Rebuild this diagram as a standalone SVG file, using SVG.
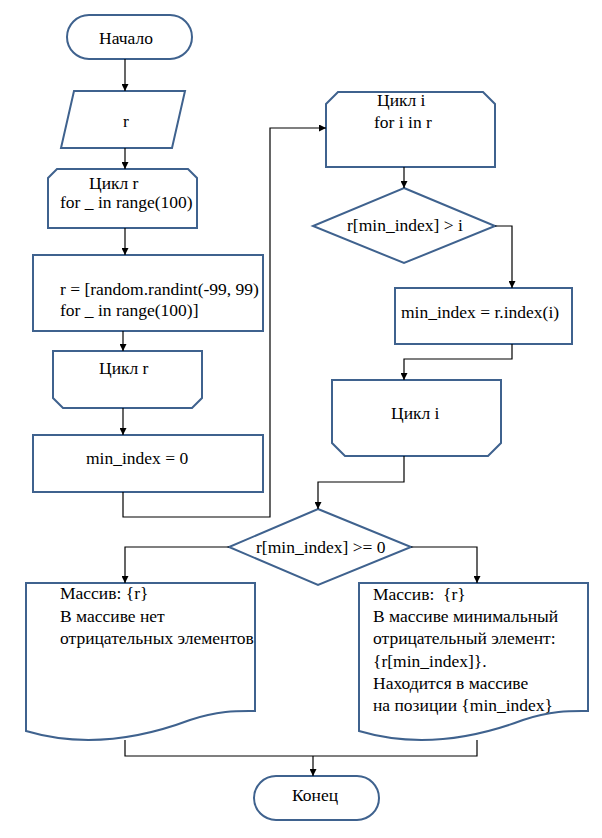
<svg xmlns="http://www.w3.org/2000/svg" width="602" height="838" viewBox="0 0 602 838" font-family="'Liberation Serif', 'Times New Roman', 'DejaVu Serif', serif" font-size="17.5">
<style>
.n{fill:#fff;stroke:#3F628E;stroke-width:2}
.c{fill:none;stroke:#000;stroke-width:1.2}
text{fill:#000;white-space:pre}
.m{text-anchor:middle}
</style>
<defs>
<marker id="a" markerUnits="userSpaceOnUse" markerWidth="8" markerHeight="7" refX="7" refY="3.5" orient="auto">
<path d="M0,0 L7,3.5 L0,7 z" fill="#000"/>
</marker>
</defs>
<rect width="602" height="838" fill="#fff"/>
<g id="start"><rect class="n" x="67" y="15" width="125" height="44" rx="22"/><text class="m" x="126" y="44">Начало</text></g>
<g id="input"><polygon class="n" points="74,91 185,91 172,148 61,148"/><text class="m" x="126" y="127">r</text></g>
<g id="loopR"><polygon class="n" points="48,178 57,169 188,169 197,178 197,228 48,228"/><text x="89" y="189">Цикл r</text><text x="60" y="208">for _ in range(100)</text></g>
<g id="assignR"><rect class="n" x="33" y="255" width="230" height="76"/><text x="60" y="295">r = [random.randint(-99, 99)</text><text x="60" y="316">for _ in range(100)]</text></g>
<g id="loopREnd"><polygon class="n" points="53,351 202,351 202,398 192,408 63,408 53,398"/><text x="99" y="374">Цикл r</text></g>
<g id="minInit"><rect class="n" x="33" y="435" width="230" height="57"/><text x="86" y="464">min_index = 0</text></g>
<g id="loopI"><polygon class="n" points="326,104 338,92 483,92 495,104 495,167 326,167"/><text x="377" y="106">Цикл i</text><text x="374" y="128">for i in r</text></g>
<g id="cond1"><polygon class="n" points="404,188 495,226 404,263 313,226"/><text x="347" y="231">r[min_index] &gt; i</text></g>
<g id="minUpd"><rect class="n" x="395" y="288" width="177" height="56"/><text x="401" y="318">min_index = r.index(i)</text></g>
<g id="loopIEnd"><polygon class="n" points="332,380 501,380 501,443 488,456 345,456 332,443"/><text x="391" y="419">Цикл i</text></g>
<g id="cond2"><polygon class="n" points="318,509 411,547 318,585 229,547"/><text x="256" y="553">r[min_index] &gt;= 0</text></g>
<g id="outNo"><path class="n" d="M26,583 H255 V711 C240,711 220,710 190,720 C150,735 90,750 26,731 Z"/><text x="60" y="599">Массив: {r}</text><text x="60" y="622">В массиве нет</text><text x="60" y="644">отрицательных элементов</text></g>
<g id="outYes"><path class="n" d="M359,583 H588 V711 C573,711 553,710 523,720 C483,735 423,750 359,731 Z"/><text x="373" y="600">Массив:  {r}</text><text x="373" y="622">В массиве минимальный</text><text x="373" y="644">отрицательный элемент:</text><text x="373" y="667">{r[min_index]}.</text><text x="373" y="689">Находится в массиве</text><text x="373" y="711">на позиции {min_index}</text></g>
<g id="end"><rect class="n" x="254" y="776" width="125" height="44" rx="22"/><text class="m" x="315" y="801">Конец</text></g>
<g id="connectors">
<path class="c" d="M125,59 V91" marker-end="url(#a)"/>
<path class="c" d="M125,148 V169" marker-end="url(#a)"/>
<path class="c" d="M125,228 V255" marker-end="url(#a)"/>
<path class="c" d="M123,331 V351" marker-end="url(#a)"/>
<path class="c" d="M123,408 V435" marker-end="url(#a)"/>
<path class="c" d="M123,492 V517 H270 V128 H326" marker-end="url(#a)"/>
<path class="c" d="M404,167 V188" marker-end="url(#a)"/>
<path class="c" d="M495,226 H512 V288" marker-end="url(#a)"/>
<path class="c" d="M512,344 V359 H404 V380" marker-end="url(#a)"/>
<path class="c" d="M404,456 V482 H318 V509" marker-end="url(#a)"/>
<path class="c" d="M229,547 H125 V583" marker-end="url(#a)"/>
<path class="c" d="M411,547 H477 V583" marker-end="url(#a)"/>
<path class="c" d="M125,740 V756 H477 V740"/>
<path class="c" d="M313,756 V776" marker-end="url(#a)"/>
</g>
</svg>
